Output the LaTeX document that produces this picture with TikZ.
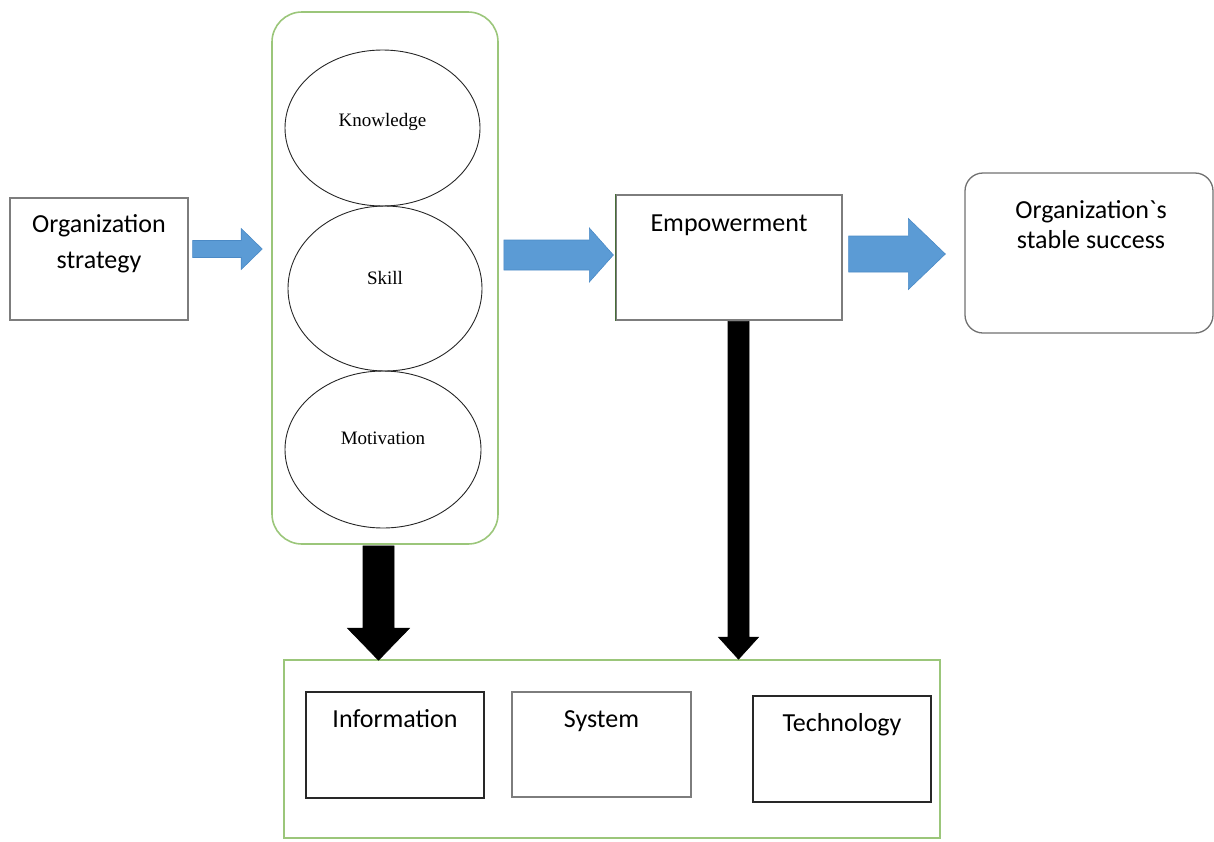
\documentclass[tikz,border=0pt]{standalone}
\usepackage{fontspec}
\setmainfont{Carlito}
\newfontfamily\graveface[Ligatures=TeXOff]{Carlito}
\newfontfamily\timesfont{Liberation Serif}
\usetikzlibrary{shapes.geometric,calc}

\definecolor{framegreen}{RGB}{155,198,122}
\definecolor{edgegreen}{RGB}{70,110,55}
\definecolor{flowblue}{RGB}{91,155,213}
\definecolor{flowblueedge}{RGB}{75,138,198}
\definecolor{boxgray}{RGB}{125,125,125}
\definecolor{boxdark}{RGB}{40,40,40}

% horizontal block arrow: tail, tip, shaft half width, head half width, head length
\newcommand\hblockarrow[6]{%
  \filldraw[#6] let \p1=(#1), \p2=(#2) in
    (\x1,\y1+#3) -- (\x2-#5,\y1+#3) -- (\x2-#5,\y1+#4) -- (\x2,\y1)
    -- (\x2-#5,\y1-#4) -- (\x2-#5,\y1-#3) -- (\x1,\y1-#3) -- cycle;}
% downward block arrow: tail, tip, shaft half width, head half width, head length
\newcommand\vblockarrow[6]{%
  \filldraw[#6] let \p1=(#1), \p2=(#2) in
    (\x1-#3,\y1) -- (\x1-#3,\y2+#5) -- (\x1-#4,\y2+#5) -- (\x1,\y2)
    -- (\x1+#4,\y2+#5) -- (\x1+#3,\y2+#5) -- (\x1+#3,\y1) -- cycle;}

\tikzset{
  plainbox/.style={draw=boxgray, line width=1.3pt, inner sep=0pt, fill=white},
  darkbox/.style={draw=boxdark, line width=1.3pt, inner sep=0pt, fill=white},
  greenframe/.style={draw=framegreen, line width=1.6pt, inner sep=0pt},
  oval/.style={ellipse, draw=black!85, line width=0.9pt, inner sep=0pt},
  bigtext/.style={font=\fontsize{26}{31}\selectfont, inner sep=0pt, anchor=base},
  ovaltext/.style={font=\timesfont\fontsize{19}{22}\selectfont, inner sep=0pt, anchor=base},
  bluearrow/.style={fill=flowblue, draw=flowblueedge, line width=0.6pt},
  blackarrow/.style={fill=black, draw=black, line width=0.6pt},
}

\begin{document}
\begin{tikzpicture}[x=1pt, y=-1pt]
\useasboundingbox (0,0) rectangle (1214,841);

% boxes
\node[plainbox, minimum width=178pt, minimum height=122pt] (strat) at (99,259) {};
\node[greenframe, rounded corners=30pt, minimum width=226pt, minimum height=532pt] (cluster) at (385,278) {};
\node[oval, minimum width=195pt, minimum height=156pt] (know) at (382.5,128) {};
\node[oval, minimum width=194pt, minimum height=165pt] (skill) at (385,288.5) {};
\node[oval, minimum width=196pt, minimum height=157pt] (motiv) at (383,449.5) {};
\node[plainbox, minimum width=226pt, minimum height=125pt] (empow) at (729,257.5) {};
\draw[edgegreen, line width=1.3pt] (empow.north west) -- (empow.south west);
\node[plainbox, draw=boxgray!90!black, rounded corners=18pt, minimum width=248pt, minimum height=160pt] (success) at (1089,253) {};
\node[greenframe, minimum width=656pt, minimum height=178pt] (base) at (612,749) {};
\node[darkbox, minimum width=178pt, minimum height=106pt] (info) at (395,745) {};
\node[plainbox, minimum width=179pt, minimum height=105pt] (system) at (601.5,744.5) {};
\node[darkbox, minimum width=178pt, minimum height=106pt] (tech) at (842,749) {};

% texts
\node[bigtext] (strattext) at (99,232) {\begin{tabular}[t]{@{}c@{}}Organization\\[5pt]strategy\end{tabular}};
\node[bigtext] (empowtext) at (729,231) {Empowerment};
\node[bigtext] (successtext) at (1091,218) {\begin{tabular}[t]{@{}c@{}}Organization{\graveface `}s\\[-1pt]stable success\end{tabular}};
\node[bigtext] (infotext) at (395,727) {Information};
\node[bigtext] (systemtext) at (601.5,727) {System};
\node[bigtext] (techtext) at (842,731) {Technology};
\node[ovaltext] (knowtext) at (382.5,126) {Knowledge};
\node[ovaltext] (skilltext) at (385,284) {Skill};
\node[ovaltext] (motivtext) at (383,444) {Motivation};

% flow arrows
\coordinate (a1s) at ($(strat.east)+(4,-10)$);
\coordinate (a1e) at ($(cluster.west |- a1s)+(-9,0)$);
\hblockarrow{a1s}{a1e}{8.5pt}{20.5pt}{21pt}{bluearrow}

\coordinate (a2s) at ($(cluster.east)+(5,-23)$);
\coordinate (a2e) at ($(empow.west |- a2s)+(-2,0)$);
\hblockarrow{a2s}{a2e}{15pt}{27pt}{24pt}{bluearrow}

\coordinate (a3s) at ($(empow.east)+(6,-3.5)$);
\coordinate (a3e) at ($(success.west |- a3s)+(-19,0)$);
\hblockarrow{a3s}{a3e}{18pt}{35.5pt}{37pt}{bluearrow}

\coordinate (b1s) at ($(cluster.south)+(-6.5,1)$);
\coordinate (b1e) at ($(base.north -| b1s)+(0,1)$);
\vblockarrow{b1s}{b1e}{15.5pt}{31pt}{32pt}{blackarrow}

\coordinate (b2s) at ($(empow.south)+(9.5,0.7)$);
\coordinate (b2e) at (base.north -| b2s);
\vblockarrow{b2s}{b2e}{10.5pt}{20pt}{22pt}{blackarrow}
\end{tikzpicture}
\end{document}
